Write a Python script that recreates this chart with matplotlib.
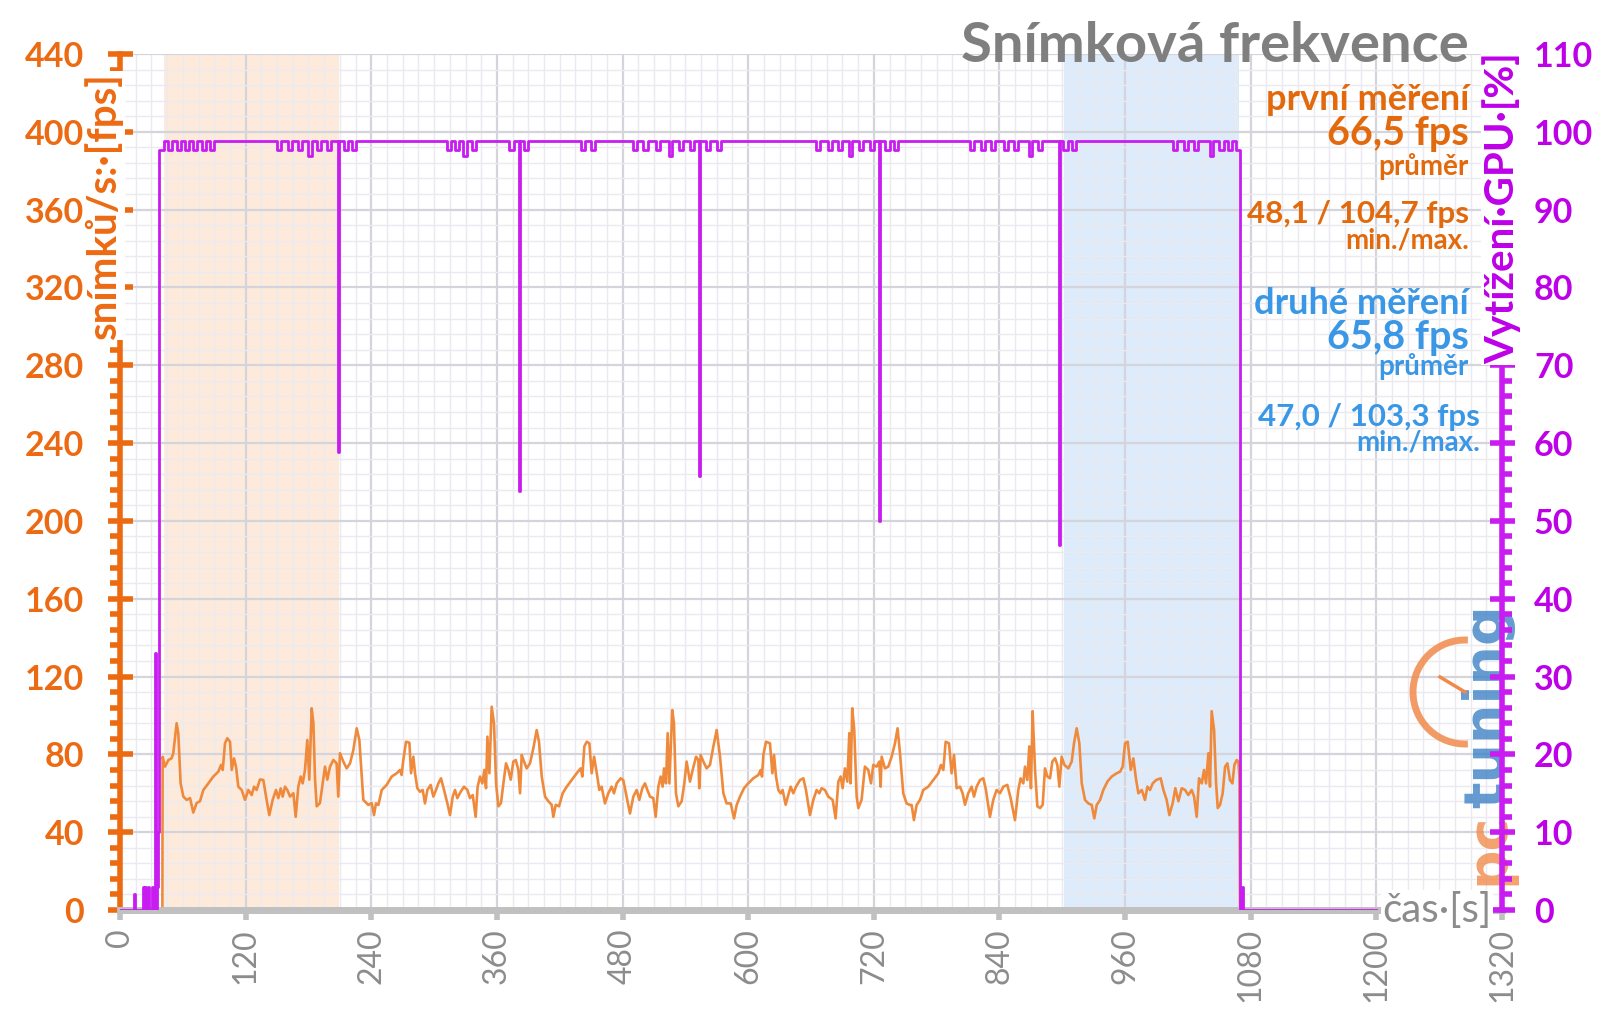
import numpy as np
import matplotlib
matplotlib.use("Agg")
import matplotlib.pyplot as plt
from matplotlib.ticker import MultipleLocator
from matplotlib.patches import Arc
from matplotlib.lines import Line2D

plt.rcParams['font.family'] = ['Lato', 'DejaVu Sans']

# ---------------- data ----------------
x_ticks = list(range(0, 1321, 120))
fps_ticks = list(range(0, 441, 40))
gpu_ticks = list(range(0, 111, 10))

first_run_span = (42.3, 209.0)
second_run_span = (901.7, 1068.7)

# frame rate samples (time [s], fps)
fps_points = [
    (40.5, 0), (40.7, 78.8), (43.0, 73.7), (46.2, 77.1), (49.3, 78.0), (50.9, 80.6), (54.1, 96.0),
    (55.7, 90.6), (57.9, 65.1), (60.5, 58.3), (63.7, 56.6), (66.9, 57.5), (70.0, 50.1), (73.2, 55.0),
    (76.4, 55.9), (79.6, 61.7), (84.4, 65.1), (89.1, 68.6), (93.9, 71.1), (96.5, 74.6), (98.1, 72.0),
    (100.3, 85.7), (102.5, 88.3), (105.1, 86.5), (106.7, 72.0), (108.9, 77.9), (110.8, 73.7),
    (113.0, 63.4), (116.2, 61.7), (119.4, 56.6), (122.6, 61.7), (125.8, 59.1), (128.0, 63.4),
    (130.5, 61.7), (133.7, 67.1), (136.9, 66.8), (139.5, 58.3), (142.6, 48.8), (145.8, 56.6),
    (149.0, 61.7), (151.2, 57.5), (153.5, 62.5), (155.4, 58.3), (157.6, 63.4), (159.8, 61.7),
    (162.4, 58.3), (165.6, 60.0), (167.8, 47.9), (170.3, 63.4), (172.6, 68.6), (174.5, 65.1),
    (176.7, 72.0), (178.9, 87.4), (180.8, 67.0), (183.1, 103.7), (184.7, 96.0), (186.3, 67.0),
    (187.9, 53.3), (191.0, 55.0), (193.6, 65.1), (195.8, 73.7), (198.0, 67.0), (200.6, 73.7),
    (203.8, 77.1), (206.9, 75.4), (208.5, 58.3), (210.1, 80.6), (213.3, 76.3), (216.5, 72.8),
    (219.7, 75.4), (222.9, 82.3), (226.1, 93.4), (228.6, 87.4), (232.4, 56.6), (237.2, 54.0),
    (240.4, 55.0), (242.6, 48.8),
    (244.5, 54.8), (246.8, 54.0), (250.0, 61.7), (254.7, 64.3), (259.5, 68.6), (264.3, 70.3),
    (267.5, 72.0), (269.0, 69.4), (270.6, 77.1), (273.2, 86.5), (276.4, 86.0), (278.0, 70.3),
    (280.2, 78.8), (281.8, 70.3), (284.0, 62.6), (286.6, 60.8), (289.1, 61.7), (291.3, 54.8),
    (293.6, 61.7), (296.7, 64.3), (299.3, 58.3), (301.8, 61.7), (304.1, 65.1), (306.6, 67.7),
    (309.5, 61.7), (312.7, 54.8), (315.2, 48.8), (317.8, 58.3), (320.0, 61.7), (322.2, 57.5),
    (325.4, 60.8), (328.6, 63.4), (331.8, 61.7), (334.3, 57.5), (336.9, 59.1), (339.7, 47.9),
    (341.6, 63.4), (343.9, 68.6), (346.1, 65.1), (348.0, 72.0), (349.6, 62.6), (350.9, 89.1),
    (352.8, 70.3), (355.0, 104.5), (357.2, 96.0), (359.2, 65.1), (361.4, 53.3), (363.9, 55.0),
    (366.2, 65.1), (368.7, 75.4), (371.0, 72.0), (373.2, 67.0), (375.7, 76.3), (378.0, 77.1),
    (380.5, 72.0), (382.1, 60.0), (383.7, 79.7), (385.9, 76.3), (388.4, 72.8), (391.6, 75.4),
    (394.8, 83.2), (398.0, 92.5), (400.2, 86.5), (402.8, 68.6), (406.0, 58.3), (409.1, 55.9),
    (412.3, 54.1), (413.9, 47.9), (416.2, 54.1), (419.3, 53.3), (422.8, 60.0), (426.7, 63.4),
    (431.4, 66.8), (436.2, 70.3), (440.0, 72.8), (441.6, 68.6), (443.5, 84.1), (445.8, 86.5),
    (448.3, 85.7), (450.5, 70.3), (452.8, 78.8),
    (455.9, 68.6), (457.8, 61.7), (460.0, 63.4), (463.2, 54.8), (466.4, 60.0), (469.6, 63.4),
    (471.8, 60.0), (474.4, 65.1), (478.2, 67.7), (480.7, 66.8), (483.9, 58.3), (487.1, 49.6),
    (490.3, 58.3), (493.5, 61.7), (496.0, 56.6), (498.9, 62.6), (501.4, 65.1), (503.7, 61.7),
    (506.2, 58.3), (509.4, 57.5), (511.6, 47.9), (514.2, 63.4), (516.4, 68.6), (518.3, 63.4),
    (519.6, 72.8), (521.5, 65.1), (523.1, 90.9), (524.7, 65.1), (527.5, 102.8), (529.1, 96.0),
    (531.0, 60.0), (533.3, 53.3), (536.5, 55.9), (539.0, 65.1), (541.2, 76.3), (544.4, 66.0),
    (547.0, 72.0), (550.2, 78.8), (552.4, 77.1), (553.3, 62.6), (554.6, 79.7), (557.2, 76.3),
    (560.3, 72.8), (563.5, 74.6), (566.7, 83.9), (569.9, 92.5), (573.1, 78.8), (576.3, 60.0),
    (579.4, 54.8), (583.3, 54.8), (586.5, 47.1), (589.0, 54.0), (592.2, 58.3), (596.0, 62.6),
    (600.1, 65.1), (604.9, 67.7), (609.7, 69.4), (611.9, 72.0), (613.2, 68.6), (614.5, 79.7),
    (617.0, 86.5), (620.8, 85.7), (623.1, 70.3), (624.7, 79.7), (626.6, 68.6), (628.8, 61.7),
    (631.0, 60.0), (632.9, 61.7), (635.8, 54.1), (638.3, 59.1), (640.6, 63.4), (643.1, 60.0),
    (645.7, 63.4), (649.5, 66.8), (652.7, 67.7), (655.2, 61.7), (659.0, 48.8),
    (662.2, 56.6), (665.4, 61.7), (667.9, 60.0), (670.1, 62.6), (673.3, 61.7), (676.5, 58.3),
    (680.7, 56.6), (683.5, 47.1), (686.1, 66.0), (688.3, 68.6), (690.2, 62.6), (692.4, 72.8),
    (694.7, 66.0), (696.6, 90.9), (697.8, 65.1), (699.4, 103.7), (701.3, 92.5), (703.6, 58.3),
    (705.2, 52.4), (708.3, 56.6), (711.5, 73.7), (714.7, 72.0), (717.3, 65.1), (719.5, 74.6),
    (722.7, 73.7), (725.2, 76.3), (726.5, 63.4), (727.5, 78.8), (730.6, 72.8), (733.8, 73.7),
    (737.0, 78.8), (740.2, 85.7), (742.7, 93.4), (745.0, 80.6), (748.1, 60.0), (751.3, 54.8),
    (754.5, 54.0), (756.1, 54.0), (758.3, 46.2), (760.9, 54.0), (764.1, 56.6), (767.3, 61.7),
    (772.0, 63.4), (776.8, 66.8), (781.6, 70.3), (784.1, 74.6), (786.4, 72.0), (788.6, 86.5),
    (791.8, 85.7), (794.3, 70.3), (796.6, 79.7), (799.1, 62.6), (802.3, 63.4), (804.8, 60.0),
    (807.1, 54.1), (810.2, 60.0), (813.4, 63.4), (815.7, 58.3), (818.2, 63.4), (821.4, 66.8),
    (824.6, 67.7), (827.1, 61.7), (830.9, 47.9), (834.1, 56.6), (837.3, 61.7), (840.5, 60.0),
    (843.7, 63.4), (847.5, 64.3), (850.7, 57.5), (854.8, 46.2), (858.0, 61.7), (860.2, 67.7),
    (862.8, 65.1), (864.4, 73.7), (866.6, 66.8), (868.5, 84.1), (870.1, 62.6), (871.7, 102.2),
    (872.4, 92.5), (874.0, 72.0), (876.2, 53.3), (878.8, 52.4), (881.3, 54.1), (883.5, 72.8),
    (885.8, 68.6), (888.3, 67.7), (890.5, 76.3), (893.1, 78.0), (895.3, 74.6), (897.2, 63.4),
    (899.4, 78.8), (902.0, 74.6), (905.8, 72.8), (909.0, 76.3), (911.2, 85.7), (913.8, 93.4),
    (916.3, 85.7), (918.6, 65.1), (921.7, 56.6), (924.9, 54.8), (928.1, 54.0), (930.6, 47.1),
    (932.9, 54.0), (936.1, 56.6), (939.2, 61.7), (943.1, 66.0), (947.2, 68.6), (952.0, 70.3),
    (955.2, 71.1), (957.7, 73.7), (960.0, 85.7), (962.5, 86.5), (965.4, 72.0), (967.9, 77.9),
    (970.5, 67.0), (972.7, 60.0), (975.9, 61.7), (979.0, 56.6), (981.3, 63.4), (983.8, 61.7),
    (986.4, 65.1), (989.6, 66.8), (994.0, 67.7), (996.6, 61.7), (999.7, 56.6), (1002.3, 48.8),
    (1005.5, 55.0), (1008.0, 62.6), (1010.9, 55.9), (1014.1, 62.6), (1017.3, 61.7), (1020.4, 59.1),
    (1023.6, 61.7), (1025.9, 58.3), (1028.4, 47.9), (1030.6, 67.7), (1033.2, 65.1), (1035.4, 72.0),
    (1037.3, 65.1), (1039.6, 80.6), (1041.1, 63.4), (1042.7, 102.2), (1045.0, 92.5), (1046.9, 65.1),
    (1048.5, 52.4), (1050.7, 54.1), (1053.2, 60.0), (1055.5, 73.7), (1057.7, 75.4), (1060.2, 66.8),
    (1062.5, 65.1), (1064.4, 74.6), (1066.6, 77.1), (1068.2, 76.3), (1069.2, 68.6), (1069.8, 0),
]

# GPU utilisation, step levels (time [s] the level starts, %)
gpu_steps = [
    (0, 0), (13.5, 2), (14.5, 0), (21.5, 3), (22.5, 0), (24, 3), (25, 0), (26.5, 3), (27.5, 0),
    (31, 3), (32, 0), (33.5, 33), (34.5, 0), (35.5, 3), (36.5, 10), (37.5, 97.7),
    (42, 98.8), (46, 97.7), (50, 98.8), (54, 97.7), (58, 98.8), (62, 97.7), (66, 98.8),
    (70, 97.7), (74, 98.8), (78, 97.7), (82, 98.8), (86, 97.7), (90, 98.8),
    (150, 97.7), (154, 98.8), (160, 97.7), (164, 98.8), (170, 97.7), (174, 98.8), (180, 96.9),
    (183, 98.8), (188, 97.7), (192, 98.8), (198, 97.7), (202, 98.8), (208.5, 58.9),
    (209.5, 98.8), (214, 97.7), (218, 98.8), (222, 97.7), (225, 98.8),
    (312, 97.7), (316, 98.8), (320, 97.7), (324, 98.8), (328, 96.9), (331, 98.8), (336, 97.7),
    (340, 98.8), (372, 97.7), (376, 98.8), (381, 53.9), (382, 98.8), (386, 97.7), (390, 98.8),
    (440, 97.7), (444, 98.8), (450, 97.7), (454, 98.8), (490, 97.7), (494, 98.8), (500, 97.7),
    (504, 98.8), (512, 97.7), (516, 98.8), (524, 96.9), (527, 98.8), (534, 97.7), (538, 98.8),
    (544, 97.7), (548, 98.8), (553, 55.8), (554, 98.8), (560, 97.7), (564, 98.8), (570, 97.7),
    (574, 98.8),
    (665, 97.7), (669, 98.8), (676, 97.7), (680, 98.8), (686, 97.7), (690, 98.8), (696, 96.9),
    (699, 98.8), (706, 97.7), (710, 98.8), (716, 97.7), (720, 98.8), (724.5, 50.0),
    (725.5, 98.8), (731, 97.7), (735, 98.8), (739, 97.7), (743, 98.8),
    (812, 97.7), (816, 98.8), (822, 97.7), (826, 98.8), (832, 97.7), (836, 98.8), (844, 97.7),
    (848, 98.8), (854, 97.7), (858, 98.8), (868, 96.9), (871, 98.8), (877, 97.7), (881, 98.8),
    (896.5, 46.9), (897.5, 98.8), (901, 97.7), (905, 98.8), (909, 97.7), (913, 98.8),
    (1006, 97.7), (1010, 98.8), (1016, 97.7), (1020, 98.8), (1026, 97.7), (1030, 98.8),
    (1041, 96.9), (1044, 98.8), (1050, 97.7), (1054, 98.8), (1058, 97.7), (1062, 98.8),
    (1066, 97.7), (1069.5, 0), (1072, 3), (1073, 0), (1200, 0),
]

first_label = ["první měření", "66,5 fps", "průměr", "48,1 / 104,7 fps", "min./max."]
second_label = ["druhé měření", "65,8 fps", "průměr", "47,0 / 103,3 fps", "min./max."]

# ---------------- style ----------------
ORANGE = '#EC6A12'
ORANGE_LINE = '#EF8A3C'
PURPLE = '#C81CF0'
PURPLE_TXT = '#BE00E8'
BLUE = '#3A97E6'
GRAY = '#8C8C8C'
SPINE_GRAY = '#C0C0C0'

fig = plt.figure(figsize=(16, 10.09), dpi=100)
ax = fig.add_axes([0.075, 0.0981, 0.86375, 0.8484])
ax.set_xlim(0, 1320)
ax.set_ylim(0, 440)

ax.axvspan(*first_run_span, color='#FDEADB', zorder=0.5, lw=0)
ax.axvspan(*second_run_span, color='#DDEBFA', zorder=0.5, lw=0)

ax.set_xticks(x_ticks)
ax.xaxis.set_minor_locator(MultipleLocator(15))
ax.set_yticks(fps_ticks)
ax.yaxis.set_minor_locator(MultipleLocator(8))
ax.grid(which='major', color='#D4D4DC', lw=1.6, zorder=0.8)
ax.grid(which='minor', color='#EAEAF0', lw=1.0, zorder=0.7)
ax.set_axisbelow(True)

ft, fv = zip(*fps_points)
ax.plot(ft, fv, color=ORANGE_LINE, lw=1.9, zorder=3)

for s in ['top', 'right']:
    ax.spines[s].set_visible(False)
ax.spines['left'].set_color(ORANGE)
ax.spines['left'].set_linewidth(4)
ax.spines['bottom'].set_color(SPINE_GRAY)
ax.spines['bottom'].set_linewidth(5)
ax.spines['bottom'].set_zorder(4)

ax.tick_params(axis='y', which='major', direction='inout', length=18, width=4,
               color=ORANGE, labelcolor=ORANGE, labelsize=24.5, pad=17)
ax.tick_params(axis='y', which='minor', direction='out', length=7, width=4, color=ORANGE)
ax.tick_params(axis='x', which='major', direction='out', length=7, width=4,
               color=SPINE_GRAY, labelcolor=GRAY, labelsize=23, pad=6, labelrotation=90)
ax.tick_params(axis='x', which='minor', length=0)
for lab in ax.get_yticklabels():
    lab.set_fontweight('bold')

# watermark logo (approximation), drawn inside the main axes layer
logo_kw = dict(rotation=90, ha='center', transform=fig.transFigure, clip_on=False,
               fontsize=40, fontweight='bold', family='DejaVu Sans', zorder=1)
ax.text(1488 / 1600, 1 - 885 / 1009, "pc", va='bottom', color='#F08A4B', alpha=0.8, **logo_kw)
ax.text(1488 / 1600, 1 - 808 / 1009, "tuning", va='bottom', color='#3F82C6', alpha=0.8, **logo_kw)
arc = Arc((1465 / 1600, 1 - 692 / 1009), 104 / 1600, 104 / 1009, theta1=88, theta2=272,
          transform=fig.transFigure, color='#F08A4B', lw=5, alpha=0.85, zorder=1)
ax.add_artist(arc)
arc.set_clip_on(False)
needle = Line2D([1440 / 1600, 1465 / 1600], [1 - 677 / 1009, 1 - 692 / 1009],
                transform=fig.transFigure, color='#F08A4B', lw=2.5, zorder=1, clip_on=False)
ax.add_artist(needle)

ax2 = ax.twinx()
ax2.set_ylim(0, 110)
ax2.set_yticks(gpu_ticks)
ax2.yaxis.set_minor_locator(MultipleLocator(2))
gt, gv = zip(*gpu_steps)
ax2.plot(gt, gv, color=PURPLE, lw=2.0, drawstyle='steps-post', zorder=5)
for s in ['top', 'left', 'bottom']:
    ax2.spines[s].set_visible(False)
ax2.spines['right'].set_color(PURPLE)
ax2.spines['right'].set_linewidth(4)
ax2.tick_params(axis='y', which='major', direction='inout', length=18, width=4,
                color=PURPLE, labelcolor=PURPLE_TXT, labelsize=24.5, pad=14)
ax2.tick_params(axis='y', which='minor', direction='out', length=7, width=4, color=PURPLE)
for lab in ax2.get_yticklabels():
    lab.set_fontweight('bold')

# axis titles (with white box hiding the spine behind them)
fig.text(104 / 1600, 1 - 72 / 1009, "snímků/s:·[fps]", rotation=90, ha='center', va='top',
         color=ORANGE, fontsize=29, fontweight='bold',
         bbox=dict(fc='white', ec='none', pad=1))
fig.text(1502 / 1600, 1 - 52 / 1009, "Vytížení·GPU·[%]", rotation=90, ha='center', va='top',
         color=PURPLE_TXT, fontsize=29, fontweight='bold',
         bbox=dict(fc='white', ec='none', pad=1))
fig.text(1437 / 1600, 1 - 910 / 1009, "čas·[s]", ha='center', va='center',
         color=GRAY, fontsize=29, bbox=dict(fc='white', ec='none', pad=1))

# title
fig.text(1469 / 1600, 1 - 46 / 1009, "Snímková frekvence", ha='right', va='center',
         color='#7F7F7F', fontsize=40.5, fontweight='bold')

# annotation blocks
def block(lines, x, ys, sizes, color):
    for txt, y, sz in zip(lines, ys, sizes):
        fig.text(x, 1 - y / 1009, txt, ha='right', va='center', color=color,
                 fontsize=sz, fontweight='bold')

sizes = [26, 28.5, 20, 22.5, 20]
block(first_label, 1469 / 1600, [100, 134, 167, 214, 240], sizes, '#E36A0C')
block(second_label[:3], 1469 / 1600, [303, 337, 367], sizes[:3], BLUE)
block(second_label[3:], 1480 / 1600, [417, 443], sizes[3:], BLUE)

fig.savefig("out.png", dpi=100)
